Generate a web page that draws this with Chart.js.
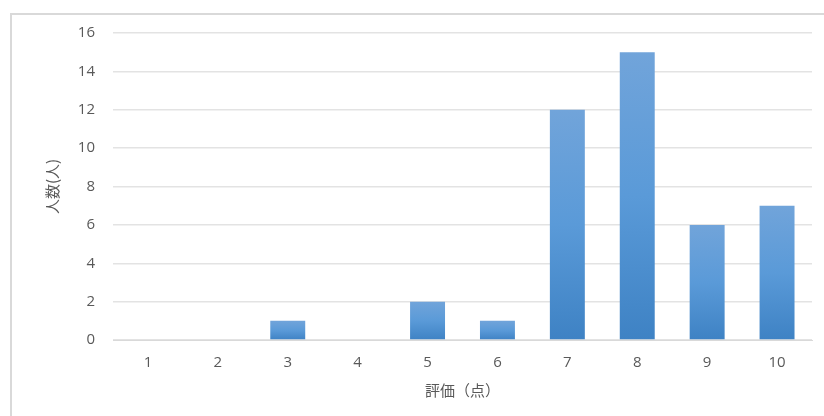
<!DOCTYPE html>
<html>
<head>
<meta charset="utf-8">
<script src="https://cdn.jsdelivr.net/npm/chart.js@4"></script>
<style>
    html, body { margin: 0; padding: 0; background: #fff; }
    #wrap { position: relative; width: 824px; height: 416px; }
    #frame {
        position: absolute; left: 10px; top: 13px; width: 830px; height: 420px;
        border-left: 2px solid #d9d9d9; border-top: 2px solid #d9d9d9;
    }
    canvas { position: absolute; left: 0; top: 0; }
</style>
</head>
<body>
<div id="wrap">
    <div id="frame"></div>
    <canvas id="myBarChart" width="824" height="416"></canvas>
</div>
<script>
// data
const categories = ['1', '2', '3', '4', '5', '6', '7', '8', '9', '10'];
const counts = [0, 0, 1, 0, 2, 1, 12, 15, 6, 7];
const yTicks = [0, 2, 4, 6, 8, 10, 12, 14, 16];
const xTitle = '評価（点）';
const yTitle = '人数(人)';

// each bar gets its own top-to-bottom gradient
function barColor(context) {
    const chart = context.chart;
    const area = chart.chartArea;
    if (!area || context.type !== 'data') {
        return '#5b9bd5';
    }
    const yScale = chart.scales.y;
    const top = yScale.getPixelForValue(context.raw);
    const bottom = yScale.getPixelForValue(0);
    if (bottom - top < 1) {
        return '#5b9bd5';
    }
    const g = chart.ctx.createLinearGradient(0, top, 0, bottom);
    g.addColorStop(0, '#71a4da');
    g.addColorStop(0.5, '#5a9ad8');
    g.addColorStop(1, '#3e82c4');
    return g;
}

const tickColor = '#595959';

var ctx = document.getElementById('myBarChart').getContext('2d');
var myBarChart = new Chart(ctx, {
    type: 'bar',
    data: {
        labels: categories,
        datasets: [{
            data: counts,
            backgroundColor: barColor,
            borderWidth: 0,
            barPercentage: 0.5,
            categoryPercentage: 1.0
        }]
    },
    options: {
        responsive: false,
        animation: false,
        layout: {
            padding: { left: 43, right: 12, top: 33, bottom: 17 }
        },
        plugins: {
            legend: { display: false },
            tooltip: { enabled: false }
        },
        scales: {
            x: {
                grid: { display: false, drawTicks: false },
                border: { color: '#d9d9d9', width: 1 },
                ticks: {
                    color: tickColor,
                    padding: 14,
                    font: { family: 'Open Sans', size: 15 }
                },
                title: {
                    display: true,
                    text: xTitle,
                    color: tickColor,
                    padding: { top: 4, bottom: 0 },
                    font: { family: 'Noto Sans CJK JP', size: 15 }
                },
                afterFit: function (scale) { scale.height = 59; }
            },
            y: {
                min: 0,
                max: 16,
                afterBuildTicks: function (scale) {
                    scale.ticks = yTicks.map(function (v) { return { value: v }; });
                },
                grid: { color: '#e3e3e3', lineWidth: 1.5, drawTicks: false },
                border: { display: false },
                ticks: {
                    color: tickColor,
                    padding: 18,
                    font: { family: 'Open Sans', size: 15 }
                },
                title: {
                    display: true,
                    text: yTitle,
                    color: tickColor,
                    padding: { top: 0, bottom: 4 },
                    font: { family: 'Noto Sans CJK JP', size: 15 }
                },
                afterFit: function (scale) { scale.width = 70; }
            }
        }
    }
});
</script>
</body>
</html>
